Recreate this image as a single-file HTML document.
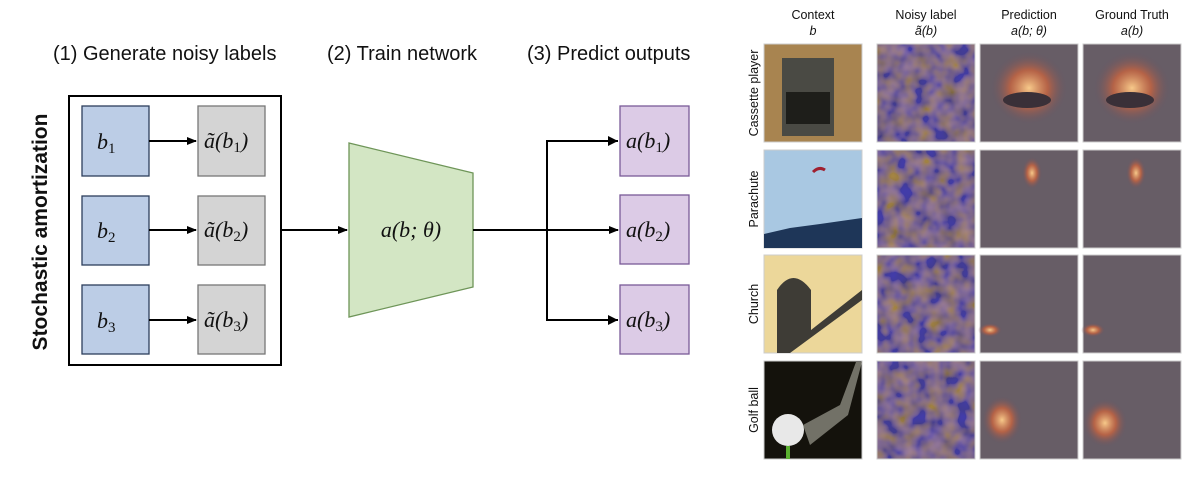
<!DOCTYPE html>
<html><head><meta charset="utf-8"><style>
html,body{margin:0;padding:0;background:#fff;width:1200px;height:484px;overflow:hidden}
svg{display:block}
.t{font-family:"Liberation Sans",sans-serif;fill:#111}
.m{font-family:"Liberation Serif",serif;font-style:italic;fill:#111}
</style></head><body>
<svg width="1200" height="484" viewBox="0 0 1200 484" xmlns="http://www.w3.org/2000/svg">
<defs>
<marker id="ar" markerWidth="10" markerHeight="10" refX="9" refY="5" orient="auto" markerUnits="userSpaceOnUse"><path d="M0,1 L10,5 L0,9 z" fill="#000"/></marker>
<filter id="nz" x="0" y="0" width="100%" height="100%">
<feTurbulence type="fractalNoise" baseFrequency="0.07" numOctaves="2" seed="3"/>
<feColorMatrix type="matrix" values="1.4 0 -0.6 0 -0.1  0.7 0 -0.3 0 -0.05  -0.5 0 1.4 0 0.0  0 0 0 0 1"/>
</filter>
<radialGradient id="gl" cx="50%" cy="50%" r="50%"><stop offset="0" stop-color="#f7c98a"/><stop offset="0.5" stop-color="#c8643f" stop-opacity="0.8"/><stop offset="1" stop-color="#6a5060" stop-opacity="0"/></radialGradient>
</defs>

<text class="t" x="53" y="60" font-size="20">(1) Generate noisy labels</text>
<text class="t" x="327" y="60" font-size="20">(2) Train network</text>
<text class="t" x="527" y="60" font-size="20">(3) Predict outputs</text>
<text class="t" font-size="21" font-weight="bold" transform="translate(47,232) rotate(-90)" text-anchor="middle">Stochastic amortization</text>

<rect x="69" y="96" width="212" height="269" fill="none" stroke="#000" stroke-width="2"/>
<g stroke-width="1.3">
<rect x="82" y="106" width="67" height="70" fill="#bccde6" stroke="#2d3e5c"/>
<rect x="82" y="196" width="67" height="69" fill="#bccde6" stroke="#2d3e5c"/>
<rect x="82" y="285" width="67" height="69" fill="#bccde6" stroke="#2d3e5c"/>
<rect x="198" y="106" width="67" height="70" fill="#d4d4d4" stroke="#777"/>
<rect x="198" y="196" width="67" height="69" fill="#d4d4d4" stroke="#777"/>
<rect x="198" y="285" width="67" height="69" fill="#d4d4d4" stroke="#777"/>
<rect x="620" y="106" width="69" height="70" fill="#dccbe6" stroke="#7a5a98"/>
<rect x="620" y="195" width="69" height="69" fill="#dccbe6" stroke="#7a5a98"/>
<rect x="620" y="285" width="69" height="69" fill="#dccbe6" stroke="#7a5a98"/>
</g>
<path d="M349,143 L473,173 L473,287 L349,317 Z" fill="#d3e6c4" stroke="#6e9558" stroke-width="1.3"/>

<g stroke="#000" stroke-width="2" fill="none">
<line x1="149" y1="141" x2="196" y2="141" marker-end="url(#ar)"/>
<line x1="149" y1="230" x2="196" y2="230" marker-end="url(#ar)"/>
<line x1="149" y1="320" x2="196" y2="320" marker-end="url(#ar)"/>
<line x1="281" y1="230" x2="347" y2="230" marker-end="url(#ar)"/>
<line x1="473" y1="230" x2="618" y2="230" marker-end="url(#ar)"/>
<polyline points="618,141 547,141 547,320 618,320"/>
</g>
<path d="M608,136 L618,141 L608,146z M608,315 L618,320 L608,325z" fill="#000"/>

<g font-size="22">
<text class="m" x="97" y="149">b<tspan font-size="15" dy="4" font-style="normal">1</tspan></text>
<text class="m" x="97" y="238">b<tspan font-size="15" dy="4" font-style="normal">2</tspan></text>
<text class="m" x="97" y="328">b<tspan font-size="15" dy="4" font-style="normal">3</tspan></text>
<text class="m" x="204" y="148">ã(b<tspan font-size="15" dy="4" font-style="normal">1</tspan><tspan dy="-4">)</tspan></text>
<text class="m" x="204" y="237">ã(b<tspan font-size="15" dy="4" font-style="normal">2</tspan><tspan dy="-4">)</tspan></text>
<text class="m" x="204" y="327">ã(b<tspan font-size="15" dy="4" font-style="normal">3</tspan><tspan dy="-4">)</tspan></text>
<text class="m" x="626" y="148">a(b<tspan font-size="15" dy="4" font-style="normal">1</tspan><tspan dy="-4">)</tspan></text>
<text class="m" x="626" y="237">a(b<tspan font-size="15" dy="4" font-style="normal">2</tspan><tspan dy="-4">)</tspan></text>
<text class="m" x="626" y="327">a(b<tspan font-size="15" dy="4" font-style="normal">3</tspan><tspan dy="-4">)</tspan></text>
<text class="m" x="411" y="237" text-anchor="middle">a(b; θ)</text>
</g>

<g class="t" font-size="12.5" text-anchor="middle">
<text x="813" y="19">Context</text><text x="813" y="35" font-style="italic">b</text>
<text x="926" y="19">Noisy label</text><text x="926" y="35" font-style="italic">ã(b)</text>
<text x="1029" y="19">Prediction</text><text x="1029" y="35" font-style="italic">a(b; θ)</text>
<text x="1132" y="19">Ground Truth</text><text x="1132" y="35" font-style="italic">a(b)</text>
</g>
<g class="t" font-size="12.5" text-anchor="middle">
<text transform="translate(758,93) rotate(-90)">Cassette player</text>
<text transform="translate(758,199) rotate(-90)">Parachute</text>
<text transform="translate(758,304) rotate(-90)">Church</text>
<text transform="translate(758,410) rotate(-90)">Golf ball</text>
</g>

<rect x="764" y="44" width="98" height="98" fill="#a88450" stroke="#ccc"/>
<rect x="782" y="58" width="52" height="78" fill="#4a4a44"/>
<rect x="786" y="92" width="44" height="32" fill="#1e1e1a"/>
<rect x="764" y="150" width="98" height="98" fill="#a9c8e2" stroke="#ccc"/>
<path d="M764,234 L790,228 L820,224 L862,218 L862,248 L764,248z" fill="#1e3658"/>
<path d="M813,172 q6,-6 12,-2" stroke="#a02030" stroke-width="3" fill="none"/>
<rect x="764" y="255" width="98" height="98" fill="#ecd79a" stroke="#ccc"/>
<path d="M777,353 L777,290 q16,-24 34,0 L811,330 L862,290 L862,300 L790,353z" fill="#3e3c36"/>
<rect x="764" y="361" width="98" height="98" fill="#14120c" stroke="#ccc"/>
<circle cx="788" cy="430" r="16" fill="#e8e8e8"/>
<path d="M803,425 L840,405 L856,362 L862,362 L848,415 L810,445z" fill="#8a8a7e" opacity="0.8"/>
<rect x="786" y="446" width="4" height="13" fill="#5ab030"/>

<g>
<rect x="877" y="44" width="98" height="98" fill="#5a4a5a" filter="url(#nz)"/>
<rect x="877" y="150" width="98" height="98" fill="#5a4a5a" filter="url(#nz)"/>
<rect x="877" y="255" width="98" height="98" fill="#5a4a5a" filter="url(#nz)"/>
<rect x="877" y="361" width="98" height="98" fill="#5a4a5a" filter="url(#nz)"/>
</g>
<g fill="#6e6470" stroke="#ccc">
<rect x="877" y="44" width="98" height="98" fill-opacity="0.6"/>
<rect x="877" y="150" width="98" height="98" fill-opacity="0.6"/>
<rect x="877" y="255" width="98" height="98" fill-opacity="0.6"/>
<rect x="877" y="361" width="98" height="98" fill-opacity="0.6"/>
</g>

<g stroke="#ccc" fill="#675d66">
<rect x="980" y="44" width="98" height="98"/><rect x="1083" y="44" width="98" height="98"/>
<rect x="980" y="150" width="98" height="98"/><rect x="1083" y="150" width="98" height="98"/>
<rect x="980" y="255" width="98" height="98"/><rect x="1083" y="255" width="98" height="98"/>
<rect x="980" y="361" width="98" height="98"/><rect x="1083" y="361" width="98" height="98"/>
</g>
<g>
<ellipse cx="1029" cy="88" rx="38" ry="36" fill="url(#gl)"/>
<ellipse cx="1027" cy="100" rx="24" ry="8" fill="#3a3038"/>
<ellipse cx="1132" cy="88" rx="38" ry="36" fill="url(#gl)"/>
<ellipse cx="1130" cy="100" rx="24" ry="8" fill="#3a3038"/>
<ellipse cx="1032" cy="173" rx="10" ry="16" fill="url(#gl)"/>
<ellipse cx="1136" cy="173" rx="10" ry="16" fill="url(#gl)"/>
<ellipse cx="990" cy="330" rx="12" ry="7" fill="url(#gl)"/>
<ellipse cx="1093" cy="330" rx="12" ry="7" fill="url(#gl)"/>
<ellipse cx="1002" cy="420" rx="20" ry="24" fill="url(#gl)"/>
<ellipse cx="1105" cy="423" rx="22" ry="24" fill="url(#gl)"/>
</g>
</svg>
</body></html>
